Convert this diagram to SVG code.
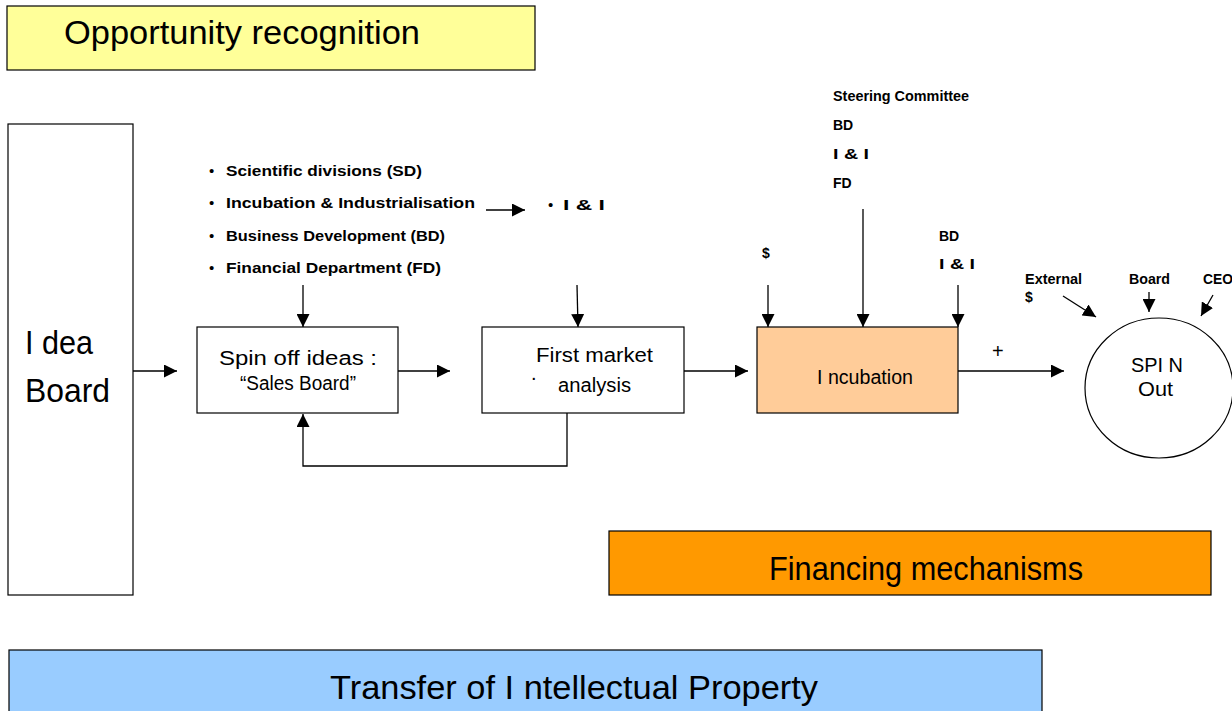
<svg xmlns="http://www.w3.org/2000/svg" width="1232" height="711" viewBox="0 0 1232 711">
<defs>
<marker id="ahb" viewBox="0 0 10 10" refX="10" refY="5" markerWidth="13" markerHeight="13" markerUnits="userSpaceOnUse" orient="auto"><path d="M0,0 L10,5 L0,10 z" fill="#000"/></marker>
<style>
.box{stroke:#000;stroke-width:1.2}
.big{font-family:"Liberation Sans",Arial,sans-serif;font-size:34px;fill:#000}
.mid{font-family:"Liberation Sans",Arial,sans-serif;font-size:20px;fill:#000}
.sm{font-family:"Liberation Sans",Arial,sans-serif;font-size:15px;font-weight:bold;fill:#000}
.xs{font-family:"Liberation Sans",Arial,sans-serif;font-size:14px;font-weight:bold;fill:#000}
.bul{font-family:"Liberation Sans",Arial,sans-serif;font-size:15px;fill:#000}
.ln{stroke:#000;stroke-width:1.3;fill:none}
</style>
</defs>
<rect width="1232" height="711" fill="#fff"/>

<g id="opportunity">
<rect class="box" x="7" y="6" width="528" height="64" fill="#FFFF99"/>
<text class="big" x="64" y="44" textLength="356" lengthAdjust="spacingAndGlyphs">Opportunity recognition</text>
</g>

<g id="idea-board">
<rect class="box" x="8" y="124" width="125" height="471" fill="#fff"/>
<text class="big" x="25" y="354" textLength="68" lengthAdjust="spacingAndGlyphs">I dea</text>
<text class="big" x="25" y="402" textLength="85" lengthAdjust="spacingAndGlyphs">Board</text>
</g>

<g id="sources">
<text class="bul" x="209" y="176">•</text>
<text class="sm" x="226" y="176" textLength="196" lengthAdjust="spacingAndGlyphs">Scientific divisions (SD)</text>
<text class="bul" x="209" y="208">•</text>
<text class="sm" x="226" y="208" textLength="249" lengthAdjust="spacingAndGlyphs">Incubation &amp; Industrialisation</text>
<text class="bul" x="209" y="241">•</text>
<text class="sm" x="226" y="241" textLength="219" lengthAdjust="spacingAndGlyphs">Business Development (BD)</text>
<text class="bul" x="209" y="273">•</text>
<text class="sm" x="226" y="273" textLength="215" lengthAdjust="spacingAndGlyphs">Financial Department (FD)</text>
<text class="bul" x="548" y="210">•</text>
<text class="sm" x="563" y="210" textLength="42" lengthAdjust="spacingAndGlyphs">I &amp; I</text>
</g>

<g id="spin-off">
<rect class="box" x="197" y="327" width="201" height="86" fill="#fff"/>
<text class="mid" x="219" y="365" textLength="158" lengthAdjust="spacingAndGlyphs">Spin off  ideas   :</text>
<text class="mid" x="240" y="390" textLength="116" lengthAdjust="spacingAndGlyphs">“Sales Board”</text>
</g>

<g id="first-market">
<rect class="box" x="482" y="327" width="202" height="86" fill="#fff"/>
<text class="mid" x="536" y="362" textLength="117" lengthAdjust="spacingAndGlyphs">First market</text>
<text class="mid" x="531" y="380" font-size="12">.</text>
<text class="mid" x="558" y="392" textLength="73" lengthAdjust="spacingAndGlyphs">analysis</text>
</g>

<g id="incubation">
<rect class="box" x="757" y="327" width="201" height="86" fill="#FFCC99"/>
<text class="mid" x="817" y="384" textLength="96" lengthAdjust="spacingAndGlyphs">I ncubation</text>
</g>

<g id="steering">
<text class="xs" x="833" y="101" textLength="136" lengthAdjust="spacingAndGlyphs">Steering Committee</text>
<text class="xs" x="833" y="130">BD</text>
<text class="xs" x="833" y="159" textLength="36" lengthAdjust="spacingAndGlyphs">I &amp; I</text>
<text class="xs" x="833" y="188">FD</text>
<text class="xs" x="762" y="258">$</text>
<text class="xs" x="939" y="241">BD</text>
<text class="xs" x="939" y="269" textLength="36" lengthAdjust="spacingAndGlyphs">I &amp; I</text>
<text class="mid" x="992" y="358" font-size="16">+</text>
</g>

<g id="spin-out">
<ellipse class="box" cx="1159" cy="388" rx="74" ry="70" fill="#fff"/>
<text class="mid" x="1131" y="372" textLength="52" lengthAdjust="spacingAndGlyphs">SPI N</text>
<text class="mid" x="1138" y="396" textLength="35" lengthAdjust="spacingAndGlyphs">Out</text>
<text class="xs" x="1025" y="284" textLength="57" lengthAdjust="spacingAndGlyphs">External</text>
<text class="xs" x="1025" y="302">$</text>
<text class="xs" x="1129" y="284" textLength="41" lengthAdjust="spacingAndGlyphs">Board</text>
<text class="xs" x="1203" y="284" textLength="30" lengthAdjust="spacingAndGlyphs">CEO</text>
</g>

<g id="financing">
<rect class="box" x="609" y="531" width="602" height="64" fill="#FF9900"/>
<text class="big" x="769" y="580" textLength="314" lengthAdjust="spacingAndGlyphs">Financing mechanisms</text>
</g>

<g id="transfer-ip">
<rect class="box" x="9" y="650" width="1033" height="70" fill="#99CCFF"/>
<text class="big" x="330" y="699" textLength="488" lengthAdjust="spacingAndGlyphs">Transfer of I ntellectual Property</text>
</g>

<g id="connectors">
<line class="ln" x1="133" y1="371" x2="177" y2="371" marker-end="url(#ahb)"/>
<line class="ln" x1="398" y1="371" x2="450" y2="371" marker-end="url(#ahb)"/>
<line class="ln" x1="684" y1="371" x2="748" y2="371" marker-end="url(#ahb)"/>
<line class="ln" x1="958" y1="371" x2="1064" y2="371" marker-end="url(#ahb)"/>
<polyline class="ln" points="567,413 567,466 303,466 303,414" marker-end="url(#ahb)"/>
<line class="ln" x1="303" y1="285" x2="303" y2="327" marker-end="url(#ahb)"/>
<line class="ln" x1="577" y1="285" x2="578" y2="327" marker-end="url(#ahb)"/>
<line class="ln" x1="486" y1="210" x2="525" y2="210" marker-end="url(#ahb)"/>
<line class="ln" x1="768" y1="285" x2="768" y2="327" marker-end="url(#ahb)"/>
<line class="ln" x1="863" y1="209" x2="863" y2="327" marker-end="url(#ahb)"/>
<line class="ln" x1="958" y1="285" x2="958" y2="327" marker-end="url(#ahb)"/>
<line class="ln" x1="1063" y1="296" x2="1096" y2="317" marker-end="url(#ahb)"/>
<line class="ln" x1="1149" y1="292" x2="1149" y2="312" marker-end="url(#ahb)"/>
<line class="ln" x1="1213" y1="295" x2="1201" y2="316" marker-end="url(#ahb)"/>
</g>
</svg>
